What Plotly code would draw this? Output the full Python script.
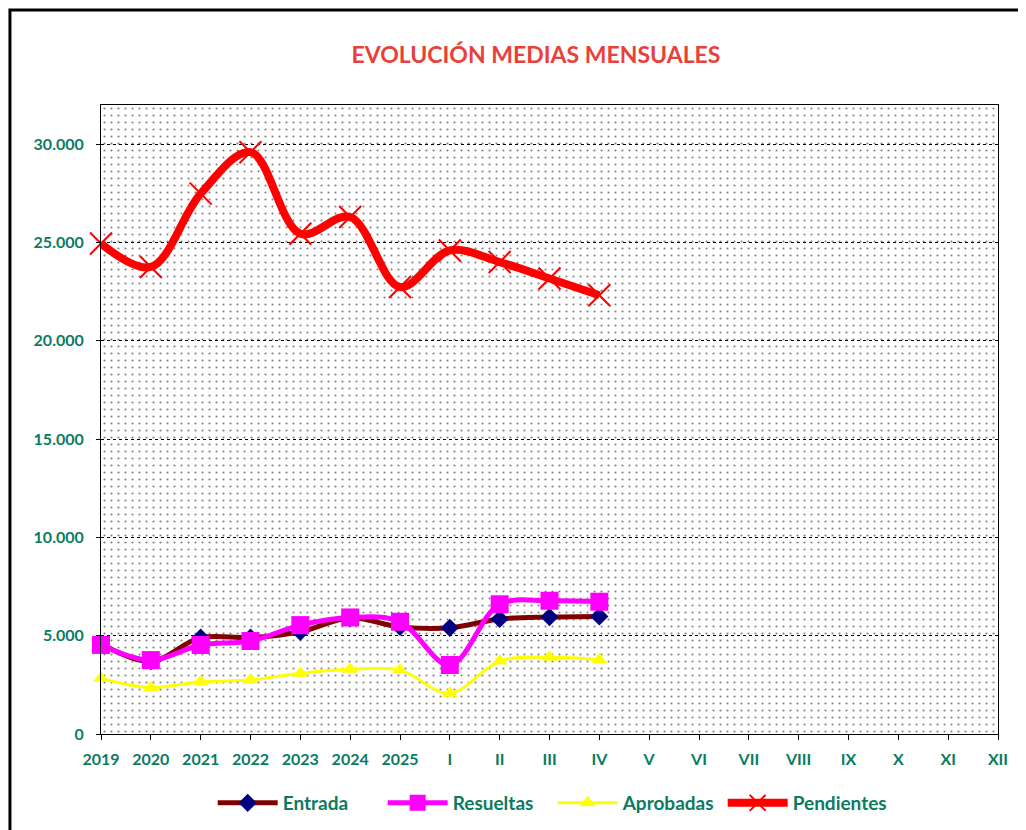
import plotly.graph_objects as go

# categories on the x axis
labels = ["2019", "2020", "2021", "2022", "2023", "2024", "2025",
          "I", "II", "III", "IV", "V", "VI", "VII", "VIII", "IX", "X", "XI", "XII"]

# monthly averages (only up to IV so far)
entrada = [4600, 3700, 4900, 4900, 5200, 5900, 5450, 5400, 5850, 5950, 5980]
resueltas = [4530, 3760, 4530, 4730, 5540, 5930, 5710, 3510, 6600, 6780, 6730]
aprobadas = [2830, 2370, 2660, 2750, 3090, 3290, 3250, 2070, 3710, 3900, 3780]
pendientes = [24950, 23760, 27490, 29600, 25450, 26300, 22740, 24600, 24010, 23170, 22320]

y_max = 32000
green = "#0B7B5F"
font = "Lato"

xs = list(range(len(labels)))


def pad(vals):
    return vals + [None] * (len(labels) - len(vals))


fig = go.Figure()

# dotted plot background (Excel style pattern)
fig.add_trace(go.Bar(x=[(len(labels) - 1) / 2], y=[y_max], width=[len(labels) - 1],
                     marker=dict(color="rgba(0,0,0,0)", line_width=0,
                                 pattern=dict(shape=".", fgcolor="black", bgcolor="rgba(0,0,0,0)",
                                              size=7, solidity=0.075, fillmode="overlay")),
                     showlegend=False, hoverinfo="skip"))

fig.add_trace(go.Scatter(x=xs, y=pad(entrada), name="Entrada", mode="lines+markers",
                         line=dict(color="#800000", width=5, shape="spline"),
                         marker=dict(symbol="diamond", size=14, color="#000080"),
                         cliponaxis=False))
fig.add_trace(go.Scatter(x=xs, y=pad(resueltas), name="Resueltas", mode="lines+markers",
                         line=dict(color="#FF00FF", width=5, shape="spline"),
                         marker=dict(symbol="square", size=18, color="#FF00FF"),
                         cliponaxis=False))
fig.add_trace(go.Scatter(x=xs, y=pad(aprobadas), name="Aprobadas", mode="lines+markers",
                         line=dict(color="#FFFF00", width=3, shape="spline"),
                         marker=dict(symbol="triangle-up", size=14, color="#FFFF00"),
                         cliponaxis=False))
fig.add_trace(go.Scatter(x=xs, y=pad(pendientes), name="Pendientes", mode="lines+markers",
                         line=dict(color="#FF0000", width=8, shape="spline"),
                         marker=dict(symbol="x-thin", size=22, color="#FF0000",
                                     line=dict(color="#FF0000", width=2)),
                         cliponaxis=False))

fig.update_layout(
    width=1026, height=830,
    margin=dict(l=93, r=36, t=97, b=104),
    paper_bgcolor="white", plot_bgcolor="white",
    separators=",.",
    font=dict(family=font, color=green, size=16),
    title=dict(text="<b>EVOLUCIÓN MEDIAS MENSUALES</b>", x=0.5146, y=0.943,
               xanchor="center", yanchor="middle", xref="container", yref="container",
               font=dict(family=font, size=23, color="#E8403A")),
    legend=dict(orientation="h", x=0.1245, y=-0.1097, xanchor="left", yanchor="middle",
                font=dict(family=font, size=19, color=green, weight="bold"),
                itemwidth=60, entrywidth=95, bgcolor="rgba(0,0,0,0)"),
    showlegend=True,
    bargap=0,
)

fig.update_xaxes(range=[0, len(labels) - 1], tickvals=xs, ticktext=labels,
                 showgrid=False, zeroline=False, showline=True, linecolor="black", linewidth=1,
                 mirror=True, ticks="outside", ticklen=5, tickcolor="black",
                 ticklabelstandoff=6,
                 tickfont=dict(family=font, size=16, color=green, weight="bold"))
fig.update_yaxes(range=[0, y_max], dtick=5000, tickformat=",d",
                 showgrid=True, gridcolor="black", griddash="dot", gridwidth=1,
                 zeroline=False, showline=True, linecolor="black", linewidth=1, mirror=True,
                 ticks="outside", ticklen=4, tickcolor="black",
                 ticklabelstandoff=9,
                 tickfont=dict(family=font, size=16, color=green, weight="bold"))

# outer chart frame
fig.add_shape(type="rect", xref="paper", yref="paper",
              x0=-0.1015, x1=1.028, y0=-0.173, y1=1.151,
              line=dict(color="black", width=3), fillcolor="rgba(0,0,0,0)", layer="above")

fig.write_html("out.html")
